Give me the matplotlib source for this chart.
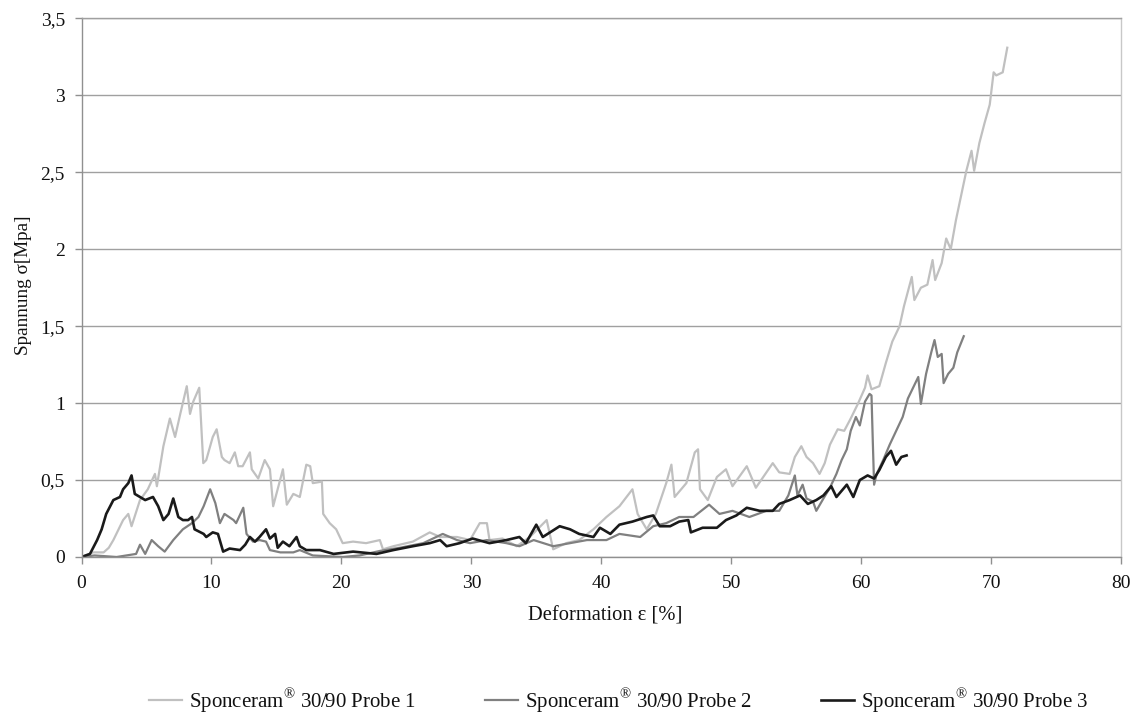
import matplotlib
matplotlib.use("Agg")
import matplotlib.pyplot as plt
from matplotlib.ticker import FuncFormatter, MultipleLocator

plt.rcParams['font.family'] = ['Liberation Serif', 'DejaVu Serif']
plt.rcParams['mathtext.fontset'] = 'custom'
plt.rcParams['mathtext.rm'] = 'Liberation Serif'

# Probe 1 (light grey)
p1_x = [0, 0.9, 1.7, 2.1, 2.45, 3.2, 3.6, 3.85, 4.5, 5.1, 5.65, 5.8, 6.3, 6.8, 7.2, 7.6,
        8.1, 8.35, 8.6, 9.06, 9.37, 9.6, 10.1, 10.4, 10.8, 11.0, 11.4, 11.8, 12.06, 12.4,
        12.96, 13.1, 13.6, 14.1, 14.5, 14.75, 15.5, 15.8, 16.3, 16.8, 17.3, 17.6, 17.8,
        18.5, 18.6, 19.1, 19.6, 20.1, 20.9, 21.9, 22.96, 23.2, 24.0, 24.5, 25.5, 26.8,
        27.6, 28.9, 29.9, 30.65, 31.2, 31.4, 32.4, 33.5, 34.5, 35.8, 36.3, 37.3, 38.3,
        39.4, 40.4, 41.4, 42.4, 42.8, 43.5, 44.2, 45.0, 45.4, 45.65, 46.55, 47.2, 47.45,
        47.6, 48.2, 48.9, 49.6, 50.1, 51.2, 51.9, 53.2, 53.7, 54.5, 54.9, 55.4, 55.8,
        56.3, 56.8, 57.2, 57.6, 58.2, 58.7, 59.2, 59.75, 60.3, 60.5, 60.8, 61.4, 61.9,
        62.4, 62.96, 63.3, 63.9, 64.1, 64.6, 65.1, 65.5, 65.7, 66.2, 66.55, 66.9, 67.3,
        67.7, 68.1, 68.5, 68.7, 69.1, 69.5, 69.9, 70.2, 70.4, 70.9, 71.25]
p1_y = [0, 0.03, 0.03, 0.06, 0.11, 0.24, 0.28, 0.2, 0.37, 0.44, 0.54, 0.46, 0.72, 0.9,
        0.78, 0.93, 1.11, 0.93, 1.01, 1.10, 0.61, 0.63, 0.78, 0.83, 0.65, 0.63, 0.61,
        0.68, 0.59, 0.59, 0.68, 0.57, 0.51, 0.63, 0.57, 0.33, 0.57, 0.34, 0.41, 0.39,
        0.6, 0.59, 0.48, 0.49, 0.28, 0.22, 0.18, 0.09, 0.1, 0.09, 0.11, 0.05, 0.07, 0.08,
        0.1, 0.16, 0.13, 0.13, 0.11, 0.22, 0.22, 0.11, 0.12, 0.07, 0.13, 0.24, 0.05, 0.09,
        0.11, 0.18, 0.26, 0.33, 0.44, 0.28, 0.18, 0.28, 0.48, 0.6, 0.39, 0.48, 0.68, 0.7,
        0.44, 0.37, 0.52, 0.57, 0.46, 0.59, 0.45, 0.61, 0.55, 0.54, 0.65, 0.72, 0.65,
        0.61, 0.54, 0.61, 0.73, 0.83, 0.82, 0.90, 0.995, 1.10, 1.18, 1.09, 1.11, 1.26,
        1.40, 1.50, 1.63, 1.82, 1.67, 1.75, 1.77, 1.93, 1.80, 1.91, 2.07, 2.0, 2.19,
        2.35, 2.51, 2.64, 2.51, 2.69, 2.82, 2.94, 3.15, 3.13, 3.15, 3.31]

# Probe 2 (mid grey)
p2_x = [0, 1.0, 2.7, 4.2, 4.5, 4.9, 5.4, 5.9, 6.4, 7.06, 7.8, 8.5, 9.0, 9.4, 9.9, 10.3,
        10.65, 11.0, 11.7, 11.9, 12.45, 12.7, 13.2, 13.7, 14.2, 14.5, 15.3, 16.3, 16.8,
        17.8, 20.1, 21.4, 23.0, 24.5, 26.3, 27.8, 28.9, 29.9, 31.2, 32.7, 33.7, 34.8,
        36.3, 37.6, 38.9, 40.4, 41.4, 43.0, 44.0, 45.0, 46.0, 47.1, 48.3, 49.1, 50.1,
        51.4, 52.7, 53.7, 54.4, 54.9, 55.1, 55.5, 55.8, 56.3, 56.55, 57.1, 57.6, 58.1,
        58.5, 58.9, 59.2, 59.6, 59.9, 60.3, 60.65, 60.8, 60.9, 61.0, 61.2, 61.7, 62.2,
        62.7, 63.2, 63.6, 64.0, 64.4, 64.6, 65.0, 65.4, 65.65, 65.9, 66.2, 66.35, 66.7,
        67.1, 67.4, 67.9]
p2_y = [0, 0.01, 0.0, 0.02, 0.08, 0.02, 0.11, 0.07, 0.035, 0.11, 0.18, 0.22, 0.26, 0.33,
        0.44, 0.35, 0.22, 0.28, 0.24, 0.22, 0.32, 0.15, 0.1, 0.11, 0.1, 0.045, 0.03, 0.03,
        0.045, 0.01, 0.0, 0.01, 0.04, 0.06, 0.09, 0.15, 0.11, 0.09, 0.11, 0.09, 0.07,
        0.11, 0.07, 0.09, 0.11, 0.11, 0.15, 0.13, 0.2, 0.22, 0.26, 0.26, 0.34, 0.28, 0.3,
        0.26, 0.3, 0.3, 0.40, 0.53, 0.40, 0.47, 0.38, 0.36, 0.30, 0.38, 0.45, 0.54, 0.63,
        0.70, 0.82, 0.91, 0.855, 1.01, 1.06, 1.05, 0.75, 0.47, 0.54, 0.63, 0.73, 0.82,
        0.91, 1.03, 1.10, 1.17, 0.995, 1.19, 1.33, 1.41, 1.30, 1.32, 1.13, 1.19, 1.23,
        1.33, 1.435]

# Probe 3 (black)
p3_x = [0, 0.65, 1.2, 1.55, 1.9, 2.45, 2.96, 3.2, 3.6, 3.85, 4.1, 4.5, 4.9, 5.5, 5.9,
        6.3, 6.7, 7.06, 7.45, 7.8, 8.2, 8.5, 8.7, 9.4, 9.6, 10.1, 10.5, 10.9, 11.4, 12.2,
        12.6, 12.96, 13.35, 13.7, 14.2, 14.5, 14.9, 15.1, 15.5, 16.0, 16.55, 16.8, 17.3,
        18.35, 19.4, 20.9, 22.7, 24.0, 25.5, 26.8, 27.6, 28.1, 29.1, 30.1, 31.4, 32.7,
        33.7, 34.2, 35.0, 35.5, 36.8, 37.6, 38.3, 39.4, 39.9, 40.7, 41.4, 42.4, 43.5,
        44.0, 44.5, 45.3, 46.0, 46.7, 46.9, 47.8, 48.9, 49.6, 50.4, 51.2, 52.2, 53.2,
        53.7, 54.5, 55.3, 55.9, 56.55, 57.1, 57.7, 58.1, 58.9, 59.4, 59.9, 60.5, 61.0,
        61.4, 61.9, 62.3, 62.7, 63.1, 63.5]
p3_y = [0, 0.02, 0.11, 0.18, 0.28, 0.37, 0.39, 0.44, 0.48, 0.53, 0.41, 0.39, 0.37, 0.39,
        0.33, 0.24, 0.28, 0.38, 0.26, 0.24, 0.24, 0.26, 0.18, 0.15, 0.13, 0.16, 0.15,
        0.035, 0.055, 0.045, 0.08, 0.13, 0.1, 0.13, 0.18, 0.12, 0.15, 0.06, 0.1, 0.07,
        0.13, 0.07, 0.045, 0.045, 0.02, 0.035, 0.02, 0.045, 0.07, 0.09, 0.11, 0.07, 0.09,
        0.12, 0.09, 0.11, 0.13, 0.09, 0.21, 0.13, 0.2, 0.18, 0.15, 0.13, 0.19, 0.15, 0.21,
        0.23, 0.26, 0.27, 0.2, 0.2, 0.23, 0.24, 0.16, 0.19, 0.19, 0.24, 0.27, 0.32, 0.3,
        0.3, 0.345, 0.37, 0.40, 0.345, 0.37, 0.40, 0.46, 0.39, 0.47, 0.39, 0.50, 0.53,
        0.51, 0.565, 0.65, 0.69, 0.60, 0.65, 0.66]

labels = ["Sponceram$^{®}$ 30/90 Probe 1",
          "Sponceram$^{®}$ 30/90 Probe 2",
          "Sponceram$^{®}$ 30/90 Probe 3"]
colors = ["#c0c0c0", "#808080", "#1a1a1a"]
widths = [1.6, 1.6, 1.9]

fig = plt.figure(figsize=(11.37, 7.13), dpi=100)
ax = fig.add_axes([0.0717, 0.2188, 0.9142, 0.7553])

for xs, ys, c, lw, lab in zip([p1_x, p2_x, p3_x], [p1_y, p2_y, p3_y], colors, widths, labels):
    ax.plot(xs, ys, color=c, lw=lw, label=lab, solid_joinstyle='round')

ax.set_xlim(0, 80)
ax.set_ylim(0, 3.5)
ax.xaxis.set_major_locator(MultipleLocator(10))
ax.yaxis.set_major_locator(MultipleLocator(0.5))
ax.yaxis.set_major_formatter(FuncFormatter(lambda v, p: ("%g" % v).replace(".", ",")))
ax.grid(axis='y', color='#a0a0a0', lw=1.0)
ax.set_axisbelow(True)

for side in ['left', 'bottom']:
    ax.spines[side].set_color('#909090')
ax.spines['top'].set_color('#a0a0a0')
ax.spines['right'].set_color('#c8c8c8')
for sp in ax.spines.values():
    sp.set_linewidth(1.0)

ax.tick_params(axis='both', direction='out', length=5, width=1.0, color='#909090',
               labelsize=14, labelcolor='#111111')
ax.tick_params(axis='x', pad=8)
ax.tick_params(axis='y', pad=7)

ax.set_xlabel("Deformation ε [%]", fontsize=14.8, color='#111111')
ax.xaxis.set_label_coords(0.504, -0.092)
ax.set_ylabel("Spannung σ[Mpa]", fontsize=13.8, color='#111111', labelpad=6)
ax.yaxis.label.set_y(0.505)

fig.legend(loc='lower center', bbox_to_anchor=(0.5440, -0.0185), ncol=3, frameon=False,
           fontsize=15, handlelength=1.6, handletextpad=0.32, columnspacing=3.3,
           borderpad=0.05, labelcolor='#111111')

fig.savefig("out.png", dpi=100, facecolor='white')
